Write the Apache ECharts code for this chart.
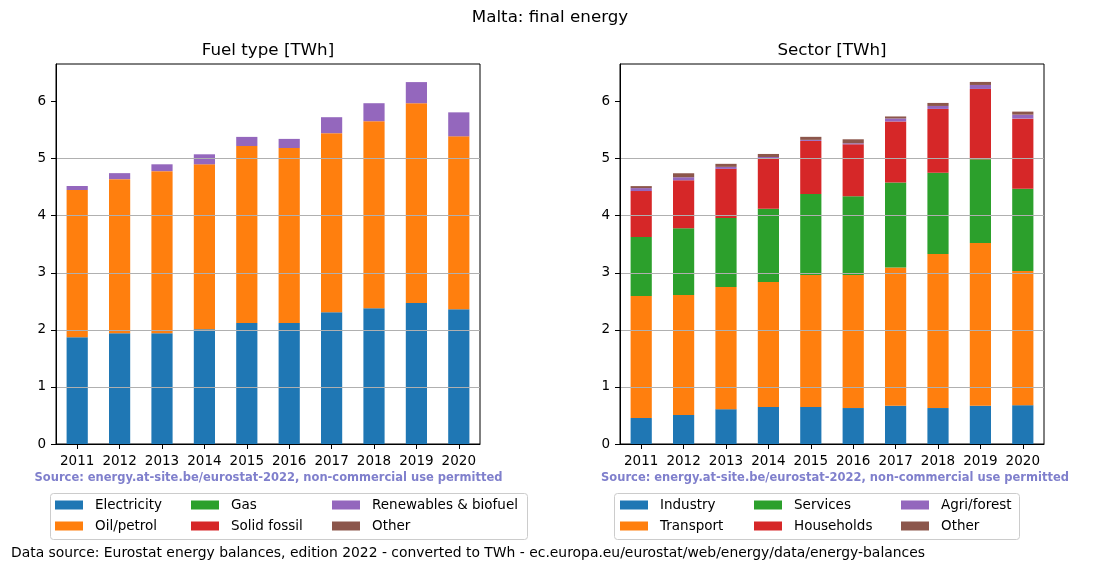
<!DOCTYPE html>
<html>
<head>
<meta charset="utf-8">
<script src="https://cdn.jsdelivr.net/npm/echarts@6/dist/echarts.min.js"></script>
<style>
html,body{margin:0;padding:0;background:#fff;}
#chart{width:1100px;height:572px;}
</style>
</head>
<body>
<div id="chart"></div>
<script>
// ---- data ----
const years = ['2011','2012','2013','2014','2015','2016','2017','2018','2019','2020'];
const yTicks = [0, 1, 2, 3, 4, 5, 6];

// Fuel type [TWh]
const fuelElectricity = [1.87, 1.94, 1.94, 2.01, 2.12, 2.12, 2.31, 2.38, 2.47, 2.36];
const fuelOil         = [2.58, 2.70, 2.84, 2.89, 3.10, 3.065, 3.135, 3.275, 3.50, 3.03];
const fuelGas         = [0, 0, 0, 0, 0, 0, 0, 0, 0, 0];
const fuelSolid       = [0, 0, 0, 0, 0, 0, 0, 0, 0, 0];
const fuelRenewables  = [0.07, 0.105, 0.12, 0.175, 0.16, 0.16, 0.28, 0.315, 0.37, 0.42];
const fuelOther       = [0, 0, 0, 0, 0, 0, 0, 0, 0, 0];

// Sector [TWh]
const secIndustry   = [0.455, 0.51, 0.61, 0.65, 0.65, 0.63, 0.67, 0.63, 0.67, 0.68];
const secTransport  = [2.137, 2.10, 2.14, 2.19, 2.31, 2.33, 2.42, 2.70, 2.85, 2.35];
const secServices   = [1.033, 1.17, 1.21, 1.28, 1.42, 1.38, 1.49, 1.42, 1.47, 1.44];
const secHouseholds = [0.806, 0.84, 0.86, 0.89, 0.93, 0.91, 1.07, 1.12, 1.23, 1.23];
const secAgri       = [0.052, 0.053, 0.035, 0.018, 0.018, 0.018, 0.053, 0.052, 0.07, 0.07];
const secOther      = [0.035, 0.07, 0.053, 0.053, 0.053, 0.07, 0.035, 0.053, 0.053, 0.053];

const fuelNames = ['Electricity','Oil/petrol','Gas','Solid fossil','Renewables & biofuel','Other'];
const fuelData  = [fuelElectricity, fuelOil, fuelGas, fuelSolid, fuelRenewables, fuelOther];
const secNames  = ['Industry','Transport','Services','Households','Agri/forest','Other'];
const secData   = [secIndustry, secTransport, secServices, secHouseholds, secAgri, secOther];

// ---- styling ----
const colors = ['#1f77b4','#ff7f0e','#2ca02c','#d62728','#9467bd','#8c564b'];
const FONT = 'DejaVu Sans';
const yMax = 6.657;

function xAxisCfg(gi){
  return {
    type:'category', gridIndex:gi, data:years, boundaryGap:true,
    axisLine:{show:true, lineStyle:{color:'#000', width:1}},
    axisTick:{show:true, alignWithLabel:true, length:5, lineStyle:{color:'#000'}},
    axisLabel:{color:'#000', fontFamily:FONT, fontSize:13.5, margin:10, interval:0},
    splitLine:{show:false}
  };
}
function yAxisCfg(gi){
  return {
    type:'value', gridIndex:gi, min:0, max:yMax, interval:1, z:10,
    axisLine:{show:true, lineStyle:{color:'#000', width:1}},
    axisTick:{show:true, length:5, lineStyle:{color:'#000'}, customValues:yTicks},
    axisLabel:{color:'#000', fontFamily:FONT, fontSize:13.5, margin:10, customValues:yTicks,
      formatter:function(v){ return Number.isInteger(v) ? String(v) : ''; }},
    splitLine:{show:true, showMinLine:false, showMaxLine:false, lineStyle:{color:'#b0b0b0', width:1}}
  };
}

const series = [];
fuelNames.forEach((n,i)=>{
  series.push({name:n, type:'bar', stack:'fuel', xAxisIndex:0, yAxisIndex:0, barWidth:'50%',
    data:fuelData[i], itemStyle:{color:colors[i]}, emphasis:{disabled:true}});
});
secNames.forEach((n,i)=>{
  series.push({name:n, type:'bar', stack:'sector', xAxisIndex:1, yAxisIndex:1, barWidth:'50%',
    data:secData[i], itemStyle:{color:colors[i]}, emphasis:{disabled:true}});
});

function legendItem(name, left, top){
  return {
    data:[name], left:left, top:top, padding:0, itemWidth:28, itemHeight:9, itemGap:0,
    icon:'rect', selectedMode:false,
    textStyle:{fontFamily:FONT, fontSize:13.5, color:'#000', padding:[0,0,0,7]}
  };
}
const r1 = 498, r2 = 519;
const legends = [
  legendItem('Electricity',55,r1), legendItem('Oil/petrol',55,r2),
  legendItem('Gas',191,r1), legendItem('Solid fossil',191,r2),
  legendItem('Renewables & biofuel',332,r1), legendItem('Other',332,r2),
  legendItem('Industry',620,r1), legendItem('Transport',620,r2),
  legendItem('Services',754,r1), legendItem('Households',754,r2),
  legendItem('Agri/forest',901,r1), legendItem('Other',901,r2)
];

const option = {
  animation:false,
  backgroundColor:'#fff',
  title:[
    {text:'Malta: final energy', left:550, top:9, textAlign:'center', padding:0,
      textStyle:{fontFamily:FONT, fontSize:16.7, fontWeight:'normal', color:'#000'}},
    {text:'Fuel type [TWh]', left:268, top:42, textAlign:'center', padding:0,
      textStyle:{fontFamily:FONT, fontSize:16.7, fontWeight:'normal', color:'#000'}},
    {text:'Sector [TWh]', left:832, top:42, textAlign:'center', padding:0,
      textStyle:{fontFamily:FONT, fontSize:16.7, fontWeight:'normal', color:'#000'}}
  ],
  grid:[
    {left:56, top:64, width:424, height:380, show:true, borderColor:'#000', borderWidth:1, backgroundColor:'transparent'},
    {left:620, top:64, width:424, height:380, show:true, borderColor:'#000', borderWidth:1, backgroundColor:'transparent'}
  ],
  xAxis:[xAxisCfg(0), xAxisCfg(1)],
  yAxis:[yAxisCfg(0), yAxisCfg(1)],
  legend:legends,
  graphic:[
    {type:'rect', left:50, top:493, shape:{width:477, height:46, r:3}, z:-1,
      style:{fill:'#fff', stroke:'#cccccc', lineWidth:1}},
    {type:'rect', left:614, top:493, shape:{width:405, height:46, r:3}, z:-1,
      style:{fill:'#fff', stroke:'#cccccc', lineWidth:1}},
    {type:'text', x:268.5, y:478, style:{text:'Source: energy.at-site.be/eurostat-2022, non-commercial use permitted',
      fill:'#7f7fcc', font:'bold 11.5px "DejaVu Sans"', textAlign:'center', textVerticalAlign:'middle'}},
    {type:'text', x:835, y:478, style:{text:'Source: energy.at-site.be/eurostat-2022, non-commercial use permitted',
      fill:'#7f7fcc', font:'bold 11.5px "DejaVu Sans"', textAlign:'center', textVerticalAlign:'middle'}},
    {type:'text', x:11, y:553, style:{text:'Data source: Eurostat energy balances, edition 2022 - converted to TWh - ec.europa.eu/eurostat/web/energy/data/energy-balances',
      fill:'#000', font:'13.9px "DejaVu Sans"', textAlign:'left', textVerticalAlign:'middle'}}
  ],
  series:series
};

const chart = echarts.init(document.getElementById('chart'), null, {renderer:'canvas'});
chart.setOption(option);
</script>
</body>
</html>
